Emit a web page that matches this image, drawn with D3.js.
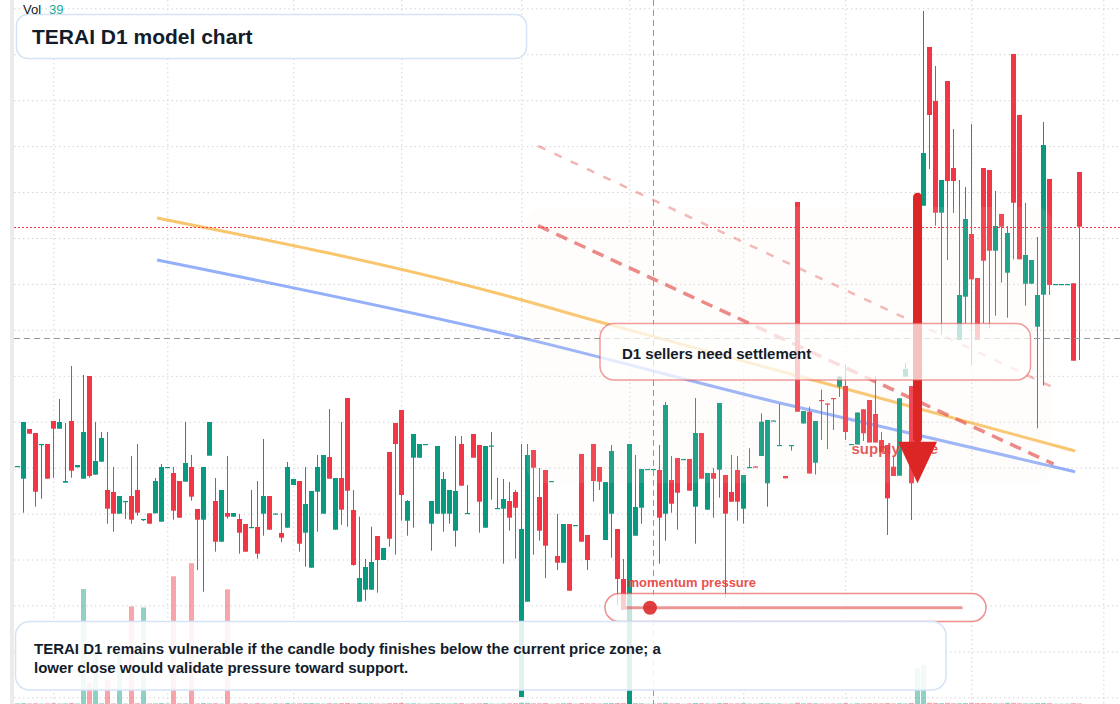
<!DOCTYPE html>
<html><head><meta charset="utf-8">
<script src="https://cdn.jsdelivr.net/npm/d3@7"></script>
<style>
html,body{margin:0;padding:0;background:#fff;overflow:hidden;}
svg{display:block;font-family:"Liberation Sans",Arial,Helvetica,sans-serif;}
</style></head><body>
<svg id="chart" width="1120" height="704"></svg>
<script>
// ---- DATA (price units) ----
const opens=[
533.5,521.3,571,567,555.5,556,579,571.3,517.3,579,
532.7,521.3,624,525.3,538.3,510,508,486.3,498.5,504,
510,480.5,486.7,486.7,478.3,532.5,527,519,518.3,533,
491,480.3,544.3,499,458.3,487,483.3,481,476,472.5,
473,486.3,504,486,467,472.3,515,519,467.3,432.3,
508.3,486.3,543,470.3,522,602,490,398.3,410.3,410.3,
464,440,548,577,590,479.3,542.3,542.3,555.5,476.3,
486.3,486.3,486.3,469.3,556,486.5,566,555,472.3,554,
491.5,491.3,499,508,303,398.3,550,503,530,518.5,
444,437.3,476,474.5,546,465,556,533,460,486.3,
471,421,296,464.3,492.3,530.5,530.5,530,486.3,520,
542,540.5,541,493.3,567,490.3,527,530.3,525,508,
530,491.3,532.5,533.5,544,516.7,579,554.5,524,554.5,
798,576.5,588.3,537.3,600,596.5,602,613.3,614,555.5,
555.5,590.7,600,586,560,555,533.3,524.3,623.3,614,
524,794.3,953,899,787.3,919,832,660,703.3,766,
722,832,830,749.3,786,727.3,946,885,716.3,716.3,
673.3,705.3,821,715.5,715.5,715.5,716.7,828];
const highs=[
534,578,571,567,556,556,579,601,577,634,
535,625,624,578,568,568,533,504,499,544,
556,481,486.7,522,536,533,533,519,578,545,
491,533,578,522,510,544,487,486,476,510,
519,561,504,486.5,487,538,521,519,533,509,
545,545,591,522,578,602,510,483.3,441,473.3,
464,452,548,577,590,500,566,556,556,499,
554,528,510,564,564,515,566,555,554,568,
522.3,521,518,510,556,556,550,532,530,519,
486,476,476,475,546,465,556,533,518,555,
471,441,556,545,531,531,531,555,598,544,
542,541,541,602,567,527,532,597,525,545,
544,525,551.7,533.5,586.7,580,579.5,596,524,555,
798,589,593.3,579,610.5,596.5,602,623.5,635.5,556,
587.5,590.7,600,623.5,568,555,543.3,601.7,637,614,
800,989,953,934,820,919,871,820,813,876,
722,832,830,809,786,774,946,885,797,740,
763,878,821,716,716,716,716.7,828];
const lows=[
533.5,487.3,566.3,493.3,501.3,521.3,522.3,571.3,517.3,522.3,
532.7,521.3,522.3,525.3,538.3,476.3,468.3,486.3,481,476.3,
484.3,479,476.3,486.7,478.3,532.5,480.3,482.3,518.3,499.3,
430,408.3,544.3,448.3,458.3,481.3,483.3,446.3,448.3,472.5,
441.3,464.3,470.3,486,457.7,472.3,515,448.3,433.3,432.3,
468.3,486.3,521.3,470.3,475.3,473.3,434.3,398.3,399.3,410.3,
407.3,440,453.3,445.3,479.3,464.3,472.3,542.3,555.5,449.3,
486.3,468.3,476.3,453.3,514.3,486.5,542.3,467.3,472.3,500.3,
491.5,436.3,469.3,441.3,303,398.3,445.3,459.3,422,518.5,
430,437.3,409.3,474.5,458.3,430,498.3,510,460,442.3,
395,390,296,464.3,476.3,530.5,528,436.3,459.3,487.3,
470.3,540.5,509.3,456.3,521.3,490.3,482.3,502.3,402.3,498.3,
479.3,476.3,532.5,533,544,493.3,579,554.5,521.7,549.3,
588.3,576.5,526.5,525.5,560,551,570,603,560,555.5,
555.5,559,557.5,557.5,548,465,524,524.3,623.3,480,
522,794.3,831,774.3,665,740,787,660,677,634.3,
660,677,672,684.3,717.3,682.3,740.7,740.7,694.3,716.3,
571.7,614.3,705,715.5,715.5,715.5,639.3,640];
const closes=[
534,578,566.3,508.3,556,521.3,571.3,578,519,529.3,
535,568,524,539,562,491.3,486.3,504,499,480.3,
487.3,481,476.3,519,533,533,489.3,482.3,537,503.3,
480.3,533,578,458.3,510,483.3,487,467.3,448.3,473,
446.3,504,470.3,486.5,462.3,533,521,456.3,496,509,
533,545,521.3,522,490.3,509.3,435,422,433,438,
440,452,461.3,556,505,499,566,556,556,499,
554,521,510,509,514.3,487,542.3,498.3,554,554.5,
492,501,482.3,492.3,471,545,532.3,469.3,454.3,519,
437.3,476,409.3,475,458.3,440,519,518.3,518,549,
421,390,556,493,531,531,531,482.3,595,496.3,
507.3,541,509.3,567,521.3,527,521.3,597,486.3,498.3,
498.3,525,533,533,578.3,580,579.5,555,521.7,555,
588.3,589,526.5,579,599.5,596,601.5,623.5,568,556,
587.5,566.7,557.5,557.5,548,501.7,524,601.7,631,516.7,
792,847,885,787.3,820,819,819,705,781,720.7,
660,739.3,749.3,774,773.3,767,797.3,740.7,745,740,
705,855,715,716,716,716,639.3,773.3];
const volumes=[
45,62,38,51,29,44,57,33,48,71,
36,8000,1470,3570,52,1680,41,3570,27,6790,
55,6720,39,46,63,31,8890,49,58,9800,
37,66,43,54,28,7980,35,47,59,32,
61,44,26,53,38,70,34,49,57,65,
41,30,56,47,62,73,39,68,45,52,
36,29,58,64,77,43,51,33,25,48,
59,42,37,55,61,27,46,53,66,31,
24,44,50,57,88,81,47,52,69,23,
41,58,74,26,63,49,55,38,60,67,
72,64,95,56,48,22,25,61,79,45,
53,21,47,70,58,44,36,66,75,41,
50,57,33,28,62,54,30,46,24,35,
90,48,59,52,37,34,40,43,63,26,
55,47,58,51,44,68,39,60,42,71,
2520,2730,84,76,61,79,53,58,66,72,
64,70,57,49,46,83,77,55,43,41,
62,69,58,22,20,24,57,39];
const categories = opens.map((_, i) => i);           // trading-day index
const gridPrices=[991.7,945.8,899.8,853.9,808,762,716.1,670.2,624.2,578.3,532.4,486.4,440.5,394.6,348.6,302.7];
const gridDays=[6,25,46,64,84,102,121,138,159,181];
// overlay studies: [dayIndex, price]
const orangeLine=[[23.3,782],[80.45,706],[97.1,678],[140,608],[176.3,549]];
const blueLine=[[23.3,740],[80.45,667.3],[127.1,597],[176.3,528.3]];
const sellerTrend=[[86.8,774.3],[172.7,536]];
const upperTrend=[[86.8,854],[172.4,613.3]];
const supplyZone={from:84.9,to:172.4,top:793,bottom:517};
const arrowDay=150, arrowFrom=806.7, arrowTo=516.7;
const crossDay=106, crossPrice=661.7;
const titleText="TERAI D1 model chart";
const noteText=["TERAI D1 remains vulnerable if the candle body finishes below the current price zone; a","lower close would validate pressure toward support."];
const calloutText="D1 sellers need settlement";
const zoneLabel="supply zone";
const sliderLabel="momentum pressure";

// ---- SCALES ----
const W=1120,H=704;
const svg=d3.select("#chart");
const x=d3.scaleLinear().domain([-2.883,183.78]).range([0,W]);
const y=d3.scaleLinear().domain([296,1000]).range([H,0]);
const v=d3.scaleLinear().domain([0,d3.max(volumes)]).range([H,H*0.8]);
const UP="#089981", DOWN="#f23645";

svg.append("rect").attr("width",W).attr("height",H).attr("fill","#fff");

// grid via axes
const gy=svg.append("g").attr("transform","translate(14,0)")
  .call(d3.axisRight(y).tickValues(gridPrices).tickSize(W-14).tickFormat(""));
gy.select(".domain").remove();
gy.selectAll("line").attr("stroke","#d4d4d4").attr("stroke-dasharray","1.5,3");
const gx=svg.append("g").attr("transform","translate(0,0)")
  .call(d3.axisBottom(x).tickValues(gridDays).tickSize(H).tickFormat(""));
gx.select(".domain").remove();
gx.selectAll("line").attr("stroke","#d4d4d4").attr("stroke-dasharray","1.5,3");

// left strip
svg.append("rect").attr("x",10).attr("y",0).attr("width",4).attr("height",H).attr("fill","#ebebeb");

// volume
svg.append("g").selectAll("rect").data(categories).join("rect")
  .attr("x",i=>Math.round(x(i)-2.5)).attr("width",5)
  .attr("y",i=>v(volumes[i])).attr("height",i=>H-v(volumes[i]))
  .attr("fill",i=>closes[i]>=opens[i]?"rgba(8,153,129,0.45)":"rgba(242,54,69,0.45)");

// trend studies (under candles)
const line=d3.line().x(d=>x(d[0])).y(d=>y(d[1])).curve(d3.curveMonotoneX);
svg.append("path").attr("d",line(orangeLine)).attr("fill","none").attr("stroke","#f59e0b").attr("stroke-opacity",0.6).attr("stroke-width",3);
svg.append("path").attr("d",line(blueLine)).attr("fill","none").attr("stroke","#4f7cf7").attr("stroke-opacity",0.6).attr("stroke-width",3);
svg.append("path").attr("d",d3.line().x(d=>x(d[0])).y(d=>y(d[1]))(upperTrend)).attr("fill","none")
  .attr("stroke","#e03a3a").attr("stroke-opacity",0.38).attr("stroke-width",2.5).attr("stroke-dasharray","8,10");
svg.append("path").attr("d",d3.line().x(d=>x(d[0])).y(d=>y(d[1]))(sellerTrend)).attr("fill","none")
  .attr("stroke","#e03a3a").attr("stroke-opacity",0.65).attr("stroke-width",3.5).attr("stroke-dasharray","12,8");

// candles
const cg=svg.append("g");
cg.selectAll("line").data(categories).join("line")
  .attr("x1",i=>Math.round(x(i)-2.5)+2.5).attr("x2",i=>Math.round(x(i)-2.5)+2.5)
  .attr("y1",i=>y(highs[i])).attr("y2",i=>y(lows[i]))
  .attr("stroke",i=>closes[i]>=opens[i]?UP:DOWN).attr("stroke-width",1);
cg.selectAll("rect").data(categories).join("rect")
  .attr("x",i=>Math.round(x(i)-2.5)).attr("width",5)
  .attr("y",i=>y(Math.max(opens[i],closes[i])))
  .attr("height",i=>Math.max(1.2,Math.abs(y(opens[i])-y(closes[i]))))
  .attr("fill",i=>closes[i]>=opens[i]?UP:DOWN);

// supply zone tint
svg.append("rect").attr("x",x(supplyZone.from)).attr("y",y(supplyZone.top))
  .attr("width",x(supplyZone.to)-x(supplyZone.from)).attr("height",y(supplyZone.bottom)-y(supplyZone.top))
  .attr("rx",16).attr("fill","rgb(250,232,215)").attr("fill-opacity",0.1);

// crosshair
svg.append("line").attr("x1",14).attr("x2",W).attr("y1",Math.round(y(crossPrice))+0.5).attr("y2",Math.round(y(crossPrice))+0.5)
  .attr("stroke","#9598a1").attr("stroke-dasharray","6,4");
svg.append("line").attr("x1",Math.round(x(crossDay))+0.5).attr("x2",Math.round(x(crossDay))+0.5).attr("y1",0).attr("y2",H)
  .attr("stroke","#9598a1").attr("stroke-dasharray","6,4");
// last price line
const lastP=closes[closes.length-1];
svg.append("line").attr("x1",14).attr("x2",W).attr("y1",Math.round(y(lastP))+0.5).attr("y2",Math.round(y(lastP))+0.5)
  .attr("stroke","#f23645").attr("stroke-width",1).attr("stroke-dasharray","2,2");

// supply zone label
svg.append("text").attr("x",851.5).attr("y",453.5).text(zoneLabel)
  .attr("font-size",15).attr("font-weight","bold").attr("fill","#e03c3c").attr("fill-opacity",0.85);

// arrow
const ax=x(arrowDay)+0.2;
svg.append("line").attr("x1",ax).attr("x2",ax).attr("y1",y(arrowFrom)+4).attr("y2",y(arrowTo)-45)
  .attr("stroke","#dc2626").attr("stroke-width",9).attr("stroke-linecap","round");
svg.append("path").attr("d",`M${ax-19.5},${y(arrowTo)-41.6}L${ax+19.5},${y(arrowTo)-41.6}L${ax},${y(arrowTo)}Z`)
  .attr("fill","#dc2626");

// callout box
svg.append("rect").attr("x",600).attr("y",323.5).attr("width",430.5).attr("height",56.5).attr("rx",14)
  .attr("fill","#fff").attr("fill-opacity",0.72).attr("stroke","rgba(230,90,90,0.6)").attr("stroke-width",1.5);
svg.append("text").attr("x",622).attr("y",359).text(calloutText)
  .attr("font-size",15).attr("font-weight","bold").attr("fill","#131c2b");

// momentum slider
svg.append("text").attr("x",627.5).attr("y",587).text(sliderLabel)
  .attr("font-size",13).attr("font-weight","bold").attr("fill","#e53935").attr("fill-opacity",0.9);
svg.append("rect").attr("x",605).attr("y",593.5).attr("width",381).attr("height",28).attr("rx",14)
  .attr("fill","#fff").attr("fill-opacity",0.75).attr("stroke","rgba(232,80,80,0.65)").attr("stroke-width",1.5);
svg.append("line").attr("x1",626.5).attr("x2",962.5).attr("y1",607.7).attr("y2",607.7)
  .attr("stroke","#e05050").attr("stroke-opacity",0.6).attr("stroke-width",3);
svg.append("circle").attr("cx",650).attr("cy",607.7).attr("r",7).attr("fill","#dc2f2f").attr("fill-opacity",0.92);

// title box
svg.append("rect").attr("x",16.5).attr("y",14.5).attr("width",510).attr("height",44).attr("rx",11)
  .attr("fill","#fff").attr("fill-opacity",0.93).attr("stroke","#d5e3f7").attr("stroke-width",1.5);
svg.append("text").attr("x",32).attr("y",43.5).text(titleText)
  .attr("font-size",21).attr("font-weight","bold").attr("fill","#131c2b");

// note box
svg.append("rect").attr("x",15.5).attr("y",621.5).attr("width",930.5).attr("height",68.5).attr("rx",14)
  .attr("fill","#fff").attr("fill-opacity",0.88).attr("stroke","#d5e3f7").attr("stroke-width",1.5);
svg.append("g").selectAll("text").data(noteText).join("text")
  .attr("x",34).attr("y",(d,i)=>653.5+i*19.5).text(d=>d)
  .attr("font-size",15).attr("font-weight","bold").attr("fill","#131c2b");

// volume legend
const vl=svg.append("text").attr("x",23).attr("y",13.5).attr("font-size",13);
vl.append("tspan").attr("fill","#131722").text("Vol");
vl.append("tspan").attr("dx",8).attr("fill","#22ab94").text(String(volumes[volumes.length-1]));
</script>
</body></html>
